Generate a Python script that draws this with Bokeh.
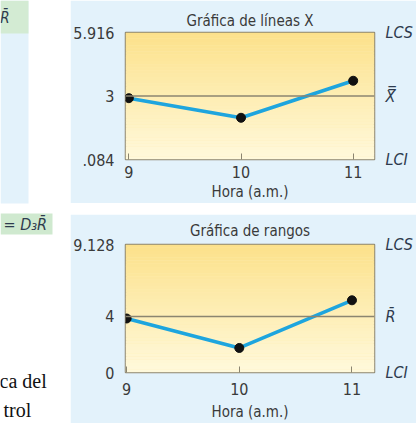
from bokeh.plotting import figure
from bokeh.models import (FixedTicker, LinearAxis, Span, Range1d,
                          ColumnDataSource, Spacer)
from bokeh.layouts import row, column
from bokeh.core.properties import value
from bokeh.embed import file_html
from bokeh.resources import INLINE

# ---------------- data ----------------
hours = [9, 10, 11]
hour_labels = ["9", "10", "11"]

xbar_values = [2.9, 2.0, 3.7]
xbar_lcl, xbar_cl, xbar_ucl = 0.084, 3.0, 5.916
xbar_left_labels = [".084", "3", "5.916"]
xbar_right_labels = ["LCI", "X\u033F", "LCS"]

range_values = [3.85, 1.75, 5.15]
r_lcl, r_cl, r_ucl = 0.0, 4.0, 9.128
r_left_labels = ["0", "4", "9.128"]
r_right_labels = ["LCI", "R\u0304", "LCS"]

titles = ["Gráfica de líneas X", "Gráfica de rangos"]
x_axis_label = "Hora (a.m.)"

# ---------------- style ----------------
FONT = "Liberation Sans Narrow, DejaVu Sans Condensed, Liberation Sans"
BLUE_BG = "#E3F2FB"
FRAME = "#8b8570"
TXT = "#3a3a3a"
LAB = "#2e3b4e"
TOP_Y = (252, 225, 138)
BOT_Y = (255, 249, 220)


def blend(t):
    c = [round(BOT_Y[i] + (TOP_Y[i] - BOT_Y[i]) * t) for i in range(3)]
    return "#%02x%02x%02x" % tuple(c)


def make_chart(title, vals, lcl, cl, ucl, left_labels, right_labels,
               x_start, x_end, height, borders, title_standoff,
               tick_standoff, label_standoff):
    bl, br, bt, bb = borders
    p = figure(width=346, height=height, output_backend="svg",
               toolbar_location=None,
               x_range=Range1d(x_start, x_end), y_range=Range1d(lcl, ucl),
               min_border_left=bl, min_border_right=br,
               min_border_top=bt, min_border_bottom=bb,
               title=title)
    p.border_fill_color = BLUE_BG
    p.background_fill_color = blend(0.5)
    p.grid.visible = False
    p.outline_line_color = FRAME
    p.outline_line_width = 1.5

    # gradient fill in bands
    n = 40
    step = (ucl - lcl) / n
    bottoms = [lcl + i * step for i in range(n)]
    tops = [b + step * 1.02 for b in bottoms]
    cols = [blend((i + 0.5) / n) for i in range(n)]
    src = ColumnDataSource(dict(bottom=bottoms, top=tops, color=cols))
    p.quad(left=x_start, right=x_end, bottom="bottom", top="top",
           fill_color="color", line_color=None, source=src)

    p.add_layout(Span(location=cl, dimension="width", line_color=FRAME,
                      line_width=1.5))

    p.line(hours, vals, line_color="#1ea5de", line_width=3.5)
    p.scatter(hours, vals, size=9, fill_color="#111111", line_color="#111111")

    ticks = [lcl, cl, ucl]
    # left axis
    ya = p.yaxis[0]
    ya.ticker = FixedTicker(ticks=ticks)
    ya.major_label_overrides = {t: s for t, s in zip(ticks, left_labels)}
    ya.axis_line_color = None
    ya.major_tick_line_color = None
    ya.minor_tick_line_color = None
    ya.major_label_standoff = 5
    ya.major_label_text_font = FONT
    ya.major_label_text_font_size = "16px"
    ya.major_label_text_color = TXT

    # right axis
    ra = LinearAxis(ticker=FixedTicker(ticks=ticks),
                    major_label_overrides={t: s for t, s in zip(ticks, right_labels)},
                    axis_line_color=None, major_tick_line_color=None,
                    minor_tick_line_color=None, major_label_standoff=5,
                    major_label_text_font=FONT,
                    major_label_text_font_style="italic",
                    major_label_text_font_size="16px",
                    major_label_text_color=LAB)
    p.add_layout(ra, "right")

    # x axis
    xa = p.xaxis[0]
    xa.ticker = FixedTicker(ticks=hours)
    xa.major_label_overrides = {h: s for h, s in zip(hours, hour_labels)}
    xa.axis_line_color = None
    xa.major_tick_in = 6
    xa.major_tick_out = 0
    xa.major_tick_line_color = FRAME
    xa.minor_tick_line_color = None
    xa.major_label_standoff = tick_standoff
    xa.major_label_text_font = FONT
    xa.major_label_text_font_size = "16px"
    xa.major_label_text_line_height = 1.0
    xa.major_label_text_color = TXT
    xa.axis_label = x_axis_label
    xa.axis_label_standoff = label_standoff
    xa.axis_label_text_font = FONT
    xa.axis_label_text_font_style = "normal"
    xa.axis_label_text_font_size = "15px"
    xa.axis_label_text_line_height = 1.0
    xa.axis_label_text_color = TXT

    p.title.align = "center"
    p.title.text_font = FONT
    p.title.text_font_style = "normal"
    p.title.text_font_size = "15px"
    p.title.text_color = TXT
    p.title.standoff = title_standoff
    return p


top = make_chart(titles[0], xbar_values, xbar_lcl, xbar_cl, xbar_ucl,
                 xbar_left_labels, xbar_right_labels, 8.97, 11.19, 203,
                 (53, 38, 32, 44), 6, 6, 2)
bottom = make_chart(titles[1], range_values, r_lcl, r_cl, r_ucl,
                    r_left_labels, r_right_labels, 8.99, 11.2, 209,
                    (54, 34, 29, 50), 10, 10, 5)

# ---------------- left strip (cropped page fragments) ----------------
left = figure(width=70, height=429, output_backend="svg", toolbar_location=None,
              x_range=Range1d(0, 70), y_range=Range1d(429, 0),
              min_border=0)
left.axis.visible = False
left.grid.visible = False
left.outline_line_color = None
left.background_fill_color = "white"
left.border_fill_color = "white"
left.quad(left=0, right=28, top=0, bottom=203, fill_color=BLUE_BG, line_color=None)
left.quad(left=0, right=28, top=0, bottom=33, fill_color="#d3ebd3", line_color=None)
left.quad(left=0, right=52, top=213, bottom=234, fill_color="#cfe9cf", line_color=None)
left.text(x=[9], y=[17], text=["R\u0304"], text_font=value(FONT),
          text_font_style="italic", text_font_size="15px", text_color=LAB,
          text_align="right", text_baseline="middle")
left.text(x=[3], y=[224], text=["= D\u2083R\u0304"], text_font=value(FONT),
          text_font_style="italic", text_font_size="16px", text_color=LAB,
          text_align="left", text_baseline="middle")
left.text(x=[-1], y=[380], text=["ca del"], text_font=value("Liberation Serif"),
          text_font_size="20px", text_color="#111111",
          text_align="left", text_baseline="middle")
left.text(x=[3], y=[409], text=["trol"], text_font=value("Liberation Serif"),
          text_font_size="20px", text_color="#111111",
          text_align="left", text_baseline="middle")

right_col = column(top, Spacer(width=346, height=11), bottom,
                   Spacer(width=346, height=6), spacing=0)
layout = row(left, right_col, spacing=0)

open("out.html", "w").write(file_html(layout, INLINE))
